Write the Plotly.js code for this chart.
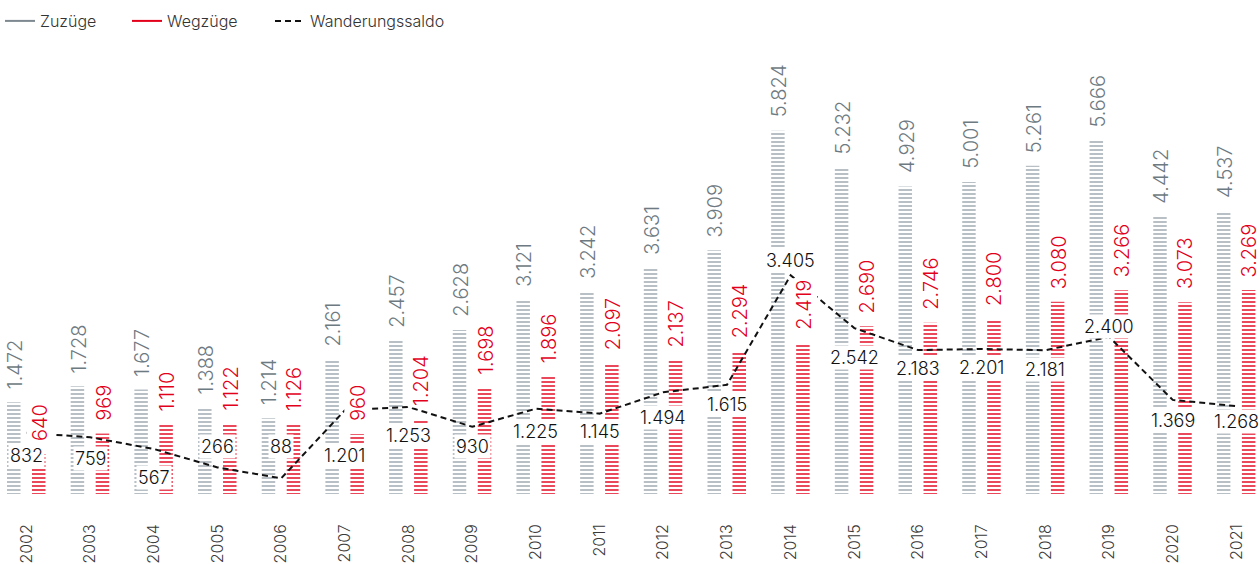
<!DOCTYPE html>
<html>
<head>
<meta charset="utf-8">
<script src="https://cdn.plot.ly/plotly-3.0.1.min.js"></script>
<style>
html, body { margin: 0; padding: 0; background: #ffffff; }
#chart { width: 1260px; height: 564px; }
</style>
</head>
<body>
<div id="chart"></div>
<script>
// ---- data ----
const years = [2002, 2003, 2004, 2005, 2006, 2007, 2008, 2009, 2010, 2011,
               2012, 2013, 2014, 2015, 2016, 2017, 2018, 2019, 2020, 2021];
const yearLabels = years.map(String);
const zuzuege = [1472, 1728, 1677, 1388, 1214, 2161, 2457, 2628, 3121, 3242,
                 3631, 3909, 5824, 5232, 4929, 5001, 5261, 5666, 4442, 4537];
const wegzuege = [640, 969, 1110, 1122, 1126, 960, 1204, 1698, 1896, 2097,
                  2137, 2294, 2419, 2690, 2746, 2800, 3080, 3266, 3073, 3269];
const saldo = [832, 759, 567, 266, 88, 1201, 1253, 930, 1225, 1145,
               1494, 1615, 3405, 2542, 2183, 2201, 2181, 2400, 1369, 1268];
const seriesNames = ['Zuzüge', 'Wegzüge', 'Wanderungssaldo'];

// ---- label placement (pixels, layout only) ----
const saldoLabelShift = [-23, -21, -28, 21, 32, -45, -28, -20, -23, -18,
                         -25, -20, 15, -29, -18, -19, -19, 10, -21, -15];

// ---- styles ----
const GREY_BAR = '#9ca7af';
const GREY_TXT = '#6e7a82';
const RED = '#e2001a';
const BLACK = '#111111';
const FONT = 'Inter, "Open Sans", Roboto, sans-serif';

const fmt = n => String(n).replace(/\B(?=(\d{3})+(?!\d))/g, '.');

const PX = 63.68;              // px per category
const barW = 13.5 / PX;

const traces = [
  {
    type: 'bar', x: years, y: zuzuege, name: seriesNames[0],
    width: barW, offset: -19.5 / PX,
    marker: { color: GREY_BAR, line: { width: 0 },
              pattern: { shape: '-', size: 4, solidity: 0.36, fgcolor: GREY_BAR } },
    showlegend: false, hoverinfo: 'skip'
  },
  {
    type: 'bar', x: years, y: wegzuege, name: seriesNames[1],
    width: barW, offset: 5.5 / PX,
    marker: { color: RED, line: { width: 0 },
              pattern: { shape: '-', size: 4, solidity: 0.36, fgcolor: RED } },
    showlegend: false, hoverinfo: 'skip'
  },
  {
    type: 'scatter', mode: 'lines', x: years, y: saldo, yaxis: 'y2',
    name: seriesNames[2], legend: 'legend3',
    line: { color: BLACK, width: 2, dash: '6px,4px' }, hoverinfo: 'skip'
  },
  // legend-only entries for the bar series
  { type: 'scatter', mode: 'lines', x: [null], y: [null], name: seriesNames[0],
    legend: 'legend', line: { color: '#7d8890', width: 2 } },
  { type: 'scatter', mode: 'lines', x: [null], y: [null], name: seriesNames[1],
    legend: 'legend2', line: { color: RED, width: 2 } }
];

const annotations = [];
years.forEach((yr, i) => {
  annotations.push({
    x: yr, y: zuzuege[i], xref: 'x', yref: 'y', text: fmt(zuzuege[i]),
    textangle: -90, xanchor: 'center', yanchor: 'bottom', xshift: -11.5, yshift: 11,
    showarrow: false, bgcolor: '#ffffff', borderpad: 1,
    font: { family: FONT, size: 20, color: GREY_TXT, weight: 300 }
  });
  annotations.push({
    x: yr, y: wegzuege[i], xref: 'x', yref: 'y', text: fmt(wegzuege[i]),
    textangle: -90, xanchor: 'center', yanchor: 'bottom', xshift: 13, yshift: 11,
    showarrow: false, bgcolor: '#ffffff', borderpad: 1,
    font: { family: FONT, size: 20, color: RED, weight: 300 }
  });
});
years.forEach((yr, i) => {
  annotations.push({
    x: yr, y: saldo[i], xref: 'x', yref: 'y2', text: fmt(saldo[i]),
    xanchor: 'center', yanchor: 'middle', yshift: saldoLabelShift[i],
    showarrow: false, bgcolor: '#ffffff', borderpad: 1,
    font: { family: FONT, size: 18, color: BLACK, weight: 300 }
  });
});

const legendBase = {
  orientation: 'h', yref: 'container', y: 1 - 21 / 564, yanchor: 'middle',
  xanchor: 'left', bgcolor: 'rgba(0,0,0,0)', borderwidth: 0,
  font: { family: FONT, size: 16, color: '#333333', weight: 300 }
};

const layout = {
  width: 1260, height: 564,
  margin: { l: 0, r: 0, t: 60, b: 70, pad: 0 },
  paper_bgcolor: '#ffffff', plot_bgcolor: '#ffffff',
  font: { family: FONT, color: '#333333' },
  barmode: 'overlay',
  showlegend: true,
  legend: Object.assign({}, legendBase, { x: 0 }),
  legend2: Object.assign({}, legendBase, { x: 127 / 1260 }),
  legend3: Object.assign({}, legendBase, { x: 270 / 1260 }),
  xaxis: {
    range: [2002 - 26.5 / PX, 2002 + (1260 - 26.5) / PX],
    tickmode: 'array', tickvals: years, ticktext: yearLabels,
    tickangle: -90, ticks: '', showline: false, showgrid: false, zeroline: false,
    ticklabelstandoff: 26,
    tickfont: { family: FONT, size: 16, color: '#3a3a3a', weight: 300 }, fixedrange: true
  },
  yaxis: { range: [0, 6957], visible: false, fixedrange: true },
  yaxis2: { range: [-168.3, 6923], overlaying: 'y', visible: false, fixedrange: true },
  annotations: annotations,
  hovermode: false
};

Plotly.newPlot('chart', traces, layout, { displayModeBar: false, staticPlot: true });
</script>
</body>
</html>
